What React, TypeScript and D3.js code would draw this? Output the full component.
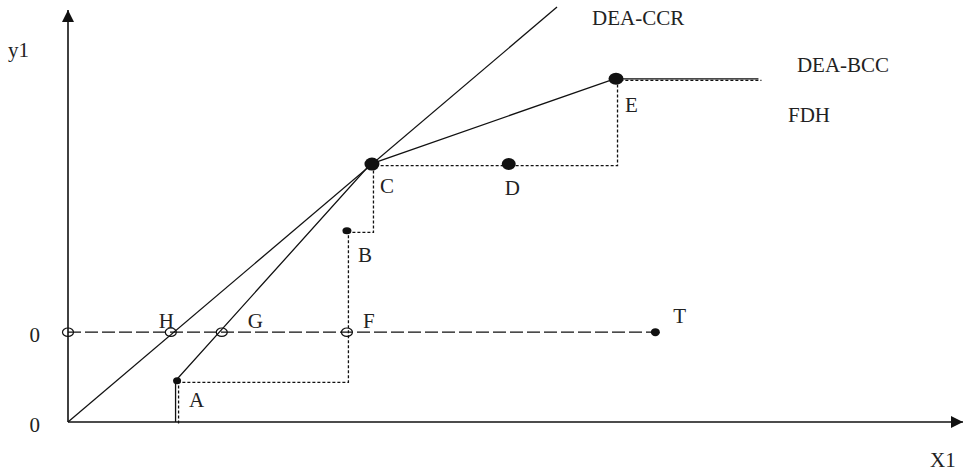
import React from "react";
import * as d3 from "d3";

// DMU points (x = input X1, y = output y1)
const pointNames = ["A", "B", "C", "D", "E"];
const pointX = [12.2, 31.2, 34.0, 49.3, 61.3];
const pointY = [10.0, 46.4, 62.6, 62.6, 83.3];

// reference output level "0" and the points marked on it
const refLevel = 21.8;
const refNames = ["", "H", "G", "F"];
const refX = [0, 11.5, 17.2, 31.2];
const targetName = "T";
const targetX = 65.7;

// frontier ends
const ccrEnd = [54.7, 100.7];
const frontierEndX = 77.4;

const yTickLabels = ["0", "0"];
const yTickValues = [0, refLevel];

const W = 963;
const H = 471;
const FONT = "'Liberation Serif', 'DejaVu Serif', serif";
const FS = 21;

// label offsets (px) for each point label
const labelOffset: Record<string, [number, number]> = {
  A: [12, 26],
  B: [11, 31],
  C: [8, 29],
  D: [-4, 31],
  E: [9, 33],
  H: [-12, -4],
  G: [26, -4],
  F: [16, -4],
  T: [18, -9],
};

const dotSize: Record<string, [number, number]> = {
  A: [4, 3.5],
  B: [4.5, 3.5],
  C: [7.5, 6.5],
  D: [7, 6],
  E: [7.5, 6],
};

export default function App() {
  const x = d3.scaleLinear().domain([0, 100]).range([68, 962]);
  const y = d3.scaleLinear().domain([0, 100]).range([422, 10]);

  const pts = pointNames.map((n, i) => ({ n, x: pointX[i], y: pointY[i] }));
  const P = (n: string) => pts.find((p) => p.n === n)!;
  const A = P("A"), B = P("B"), C = P("C"), E = P("E");

  const line = d3
    .line<[number, number]>()
    .x((d) => x(d[0]))
    .y((d) => y(d[1]));

  const ccrPath = line([[0, 0], [ccrEnd[0], ccrEnd[1]]]);
  const bccPath = line([
    [A.x, 0],
    [A.x, A.y],
    [C.x, C.y],
    [E.x, E.y],
    [frontierEndX, E.y],
  ]);
  const fdhPath = line.curve(d3.curveStepAfter)([
    [A.x, 0],
    [A.x, A.y],
    [B.x, B.y],
    [C.x, C.y],
    [E.x, E.y],
    [frontierEndX, E.y],
  ]);

  const textProps = { fontFamily: FONT, fontSize: FS, fill: "#222" };

  return (
    <svg
      width={W}
      height={H}
      style={{ position: "absolute", left: 0, top: 0, background: "#fff" }}
    >
      <defs>
        <marker id="arr" viewBox="0 0 10 10" refX="10" refY="5" markerWidth="12" markerHeight="12" markerUnits="userSpaceOnUse" orient="auto">
          <path d="M0,0 L10,5 L0,10 z" fill="#111" />
        </marker>
      </defs>

      {/* axes */}
      <line x1={x(0)} y1={y(0)} x2={x(0)} y2={y(100)} stroke="#111" strokeWidth={1.6} markerEnd="url(#arr)" />
      <line x1={x(0)} y1={y(0)} x2={x(100) + 1} y2={y(0)} stroke="#111" strokeWidth={1.6} markerEnd="url(#arr)" />

      {/* reference output level */}
      <line
        x1={x(0)}
        y1={y(refLevel)}
        x2={x(targetX)}
        y2={y(refLevel)}
        stroke="#111"
        strokeWidth={1.2}
        strokeDasharray="13,4"
      />

      {/* frontiers */}
      <path d={ccrPath!} fill="none" stroke="#111" strokeWidth={1.3} />
      <path d={fdhPath!} fill="none" stroke="#111" strokeWidth={1.3} strokeDasharray="3,2" transform="translate(1.5,1.5)" />
      <path d={bccPath!} fill="none" stroke="#111" strokeWidth={1.3} transform="translate(-1.5,0)" />

      {/* reference points */}
      {refNames.map((n, i) => (
        <g key={"r" + i}>
          <ellipse cx={x(refX[i])} cy={y(refLevel)} rx={5.5} ry={4.2} fill="none" stroke="#111" strokeWidth={1.2} />
          {n && (
            <text x={x(refX[i]) + labelOffset[n][0]} y={y(refLevel) + labelOffset[n][1]} {...textProps}>
              {n}
            </text>
          )}
        </g>
      ))}
      <ellipse cx={x(targetX)} cy={y(refLevel)} rx={4.5} ry={4} fill="#111" />
      <text x={x(targetX) + labelOffset[targetName][0]} y={y(refLevel) + labelOffset[targetName][1]} {...textProps}>
        {targetName}
      </text>

      {/* DMU points */}
      {pts.map((p) => (
        <g key={p.n}>
          <ellipse cx={x(p.x)} cy={y(p.y)} rx={dotSize[p.n][0]} ry={dotSize[p.n][1]} fill="#111" />
          <text x={x(p.x) + labelOffset[p.n][0]} y={y(p.y) + labelOffset[p.n][1]} {...textProps}>
            {p.n}
          </text>
        </g>
      ))}

      {/* series labels */}
      <text x={x(ccrEnd[0]) + 35} y={y(ccrEnd[1]) + 18} {...textProps}>DEA-CCR</text>
      <text x={x(frontierEndX) + 37} y={y(E.y) - 7} {...textProps}>DEA-BCC</text>
      <text x={x(frontierEndX) + 28} y={y(E.y) + 43} {...textProps}>FDH</text>

      {/* y tick labels */}
      {yTickValues.map((v, i) => (
        <text key={"t" + i} x={x(0) - 28} y={y(v) + 10} textAnchor="end" {...textProps}>
          {yTickLabels[i]}
        </text>
      ))}

      {/* axis titles */}
      <text x={8} y={57} {...textProps}>y1</text>
      <text x={930} y={467} {...textProps}>X1</text>
    </svg>
  );
}
